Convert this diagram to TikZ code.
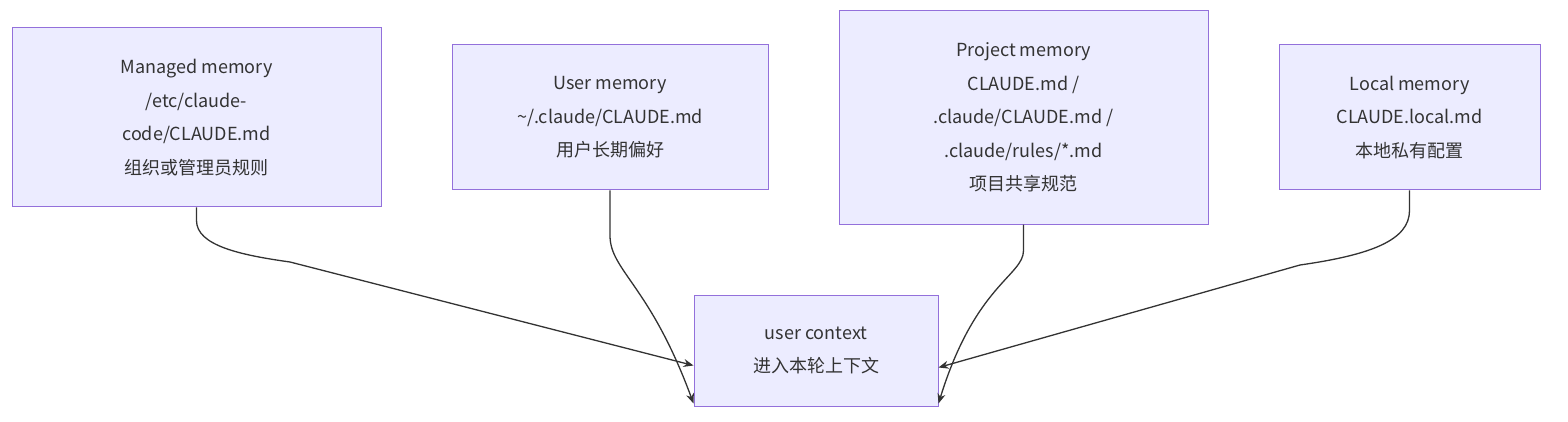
\documentclass[tikz,border=0pt]{standalone}
\usepackage{fontspec}
\setmainfont{Noto Sans CJK SC}
\usetikzlibrary{arrows.meta}
\definecolor{bfill}{HTML}{ECECFF}
\definecolor{bline}{HTML}{9370DB}
\definecolor{edge}{HTML}{333333}
\begin{document}
\begin{tikzpicture}[x=1pt,y=-1pt,
  box/.style={draw=bline,fill=bfill,line width=1pt,inner sep=0pt,align=center,
    font=\fontsize{18}{33.5}\selectfont,text=edge},
  conn/.style={draw=edge,line width=1.3pt,-{Stealth[length=10pt,width=8pt]}}]
\useasboundingbox (0,0) rectangle (1568,422);
\node[box,minimum width=369pt,minimum height=179pt] (m) at (196.5,117.5)
  {Managed memory\\/etc/claude-\\code/CLAUDE.md\\组织或管理员规则};
\node[box,minimum width=316pt,minimum height=145pt] (us) at (610,117.5)
  {User memory\\\textasciitilde/.claude/CLAUDE.md\\用户长期偏好};
\node[box,minimum width=369pt,minimum height=213pt] (p) at (1023.5,117.5)
  {Project memory\\CLAUDE.md /\\.claude/CLAUDE.md /\\.claude/rules/*.md\\项目共享规范};
\node[box,minimum width=261pt,minimum height=145pt] (l) at (1409.5,117.5)
  {Local memory\\CLAUDE.local.md\\本地私有配置};
\node[box,minimum width=244pt,minimum height=111pt] (u) at (816,350.5)
  {user context\\进入本轮上下文};
\coordinate (u1) at ([yshift=-15pt]u.west);
\coordinate (u2) at ([yshift=-53pt]u.west);
\coordinate (u3) at ([yshift=-53pt]u.east);
\coordinate (u4) at ([yshift=-17pt]u.east);
\draw[conn] (m.south) -- ++(0,13) .. controls ++(0,25) and (240,255) .. (290,262) -- (u1);
\draw[conn] (us.south) -- ++(0,45) .. controls ++(0,35) and (650,285) .. (u2);
\draw[conn] (p.south) -- ++(0,26) .. controls ++(0,25) and (975,285) .. (u3);
\draw[conn] (l.south) -- ++(0,20) .. controls ++(0,30) and (1370,255) .. (1300,265) -- (u4);
\end{tikzpicture}
\end{document}
